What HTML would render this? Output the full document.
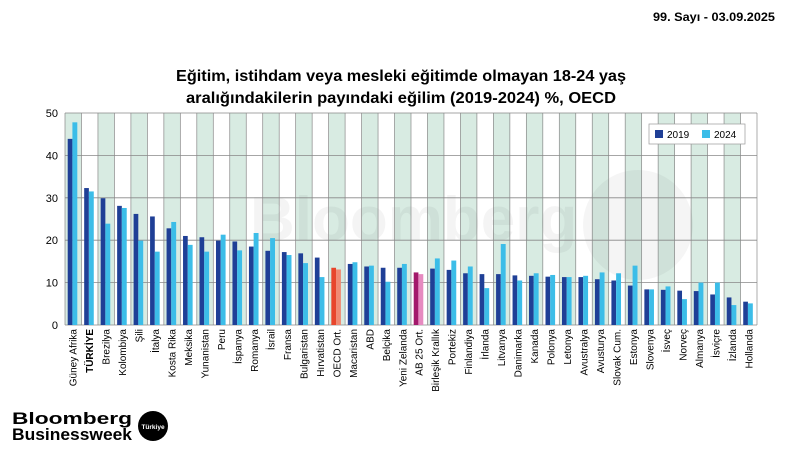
<!DOCTYPE html>
<html><head><meta charset="utf-8"><style>
html,body{margin:0;padding:0;background:#fff;width:800px;height:450px;overflow:hidden}
svg text{font-family:"Liberation Sans",sans-serif}
</style></head><body>
<svg width="800" height="450" viewBox="0 0 800 450" xmlns="http://www.w3.org/2000/svg">
<text x="775" y="21" text-anchor="end" font-size="12" font-weight="bold" textLength="122" lengthAdjust="spacingAndGlyphs">99. Sayı - 03.09.2025</text>
<text x="401" y="81" text-anchor="middle" font-size="15.5" font-weight="bold" textLength="450" lengthAdjust="spacingAndGlyphs">Eğitim, istihdam veya mesleki eğitimde olmayan 18-24 yaş</text>
<text x="401" y="103" text-anchor="middle" font-size="15.5" font-weight="bold" textLength="430" lengthAdjust="spacingAndGlyphs">aralığındakilerin payındaki eğilim (2019-2024) %, OECD</text>
<g id="chart"></g>
<text x="12" y="424" font-size="17" font-weight="bold" textLength="120" lengthAdjust="spacingAndGlyphs">Bloomberg</text>
<text x="12" y="440" font-size="17" font-weight="bold" textLength="120" lengthAdjust="spacingAndGlyphs">Businessweek</text>
<circle cx="153" cy="426" r="15" fill="#000"/>
<text x="153" y="429" text-anchor="middle" font-size="6.5" font-weight="bold" fill="#fff">Türkiye</text>
</svg>
<script>
(function(){
const names=["Güney Afrika","TÜRKİYE","Brezilya","Kolombiya","Şili","İtalya","Kosta Rika","Meksika","Yunanistan","Peru","İspanya","Romanya","İsrail","Fransa","Bulgaristan","Hırvatistan","OECD Ort.","Macaristan","ABD","Belçika","Yeni Zelanda","AB 25 Ort.","Birleşik Krallık","Portekiz","Finlandiya","İrlanda","Litvanya","Danimarka","Kanada","Polonya","Letonya","Avustralya","Avusturya","Slovak Cum.","Estonya","Slovenya","İsveç","Norveç","Almanya","İsviçre","İzlanda","Hollanda"];
const a=[43.9,32.3,29.9,28.1,26.2,25.6,22.8,21.0,20.7,19.9,19.7,18.5,17.5,17.2,16.9,15.9,13.5,14.4,13.8,13.5,13.5,12.4,13.3,13.0,12.2,12.0,12.0,11.7,11.6,11.4,11.3,11.3,10.8,10.5,9.3,8.4,8.3,8.1,8.0,7.2,6.5,5.5];
const b=[47.8,31.5,23.9,27.6,19.9,17.3,24.3,18.9,17.3,21.3,17.6,21.7,20.5,16.5,14.6,11.3,13.1,14.8,14.0,10.2,14.4,12.0,15.7,15.2,13.8,8.7,19.1,10.5,12.2,11.8,11.3,11.6,12.4,12.2,14.0,8.4,9.1,6.1,10.0,10.0,4.7,5.1];
const x0=65,x1=757,y0=325,yt=113,n=42,w=(x1-x0)/n,k=(y0-yt)/50;
let s='';
for(let i=0;i<n;i++){if(i%2==0)s+=`<rect x="${x0+i*w}" y="${yt}" width="${w}" height="${y0-yt}" fill="#d8ebe2"/>`;}
s+=`<text x="250" y="240" font-size="62" font-weight="bold" fill="#000" opacity="0.04">Bloomberg</text><circle cx="638" cy="225" r="55" fill="#000" opacity="0.04"/>`;
for(let i=0;i<=n;i++){const x=x0+i*w;s+=`<line x1="${x}" y1="${yt}" x2="${x}" y2="${y0}" stroke="#888" stroke-width="0.7"/>`;}
for(let v=0;v<=50;v+=10){const y=y0-v*k;s+=`<line x1="${x0}" y1="${y}" x2="${x1}" y2="${y}" stroke="#888" stroke-width="0.8"/><text x="58" y="${y+4}" text-anchor="end" font-size="11">${v}</text>`;}
for(let i=0;i<n;i++){const x=x0+i*w;let ca='#1f3f96',cb='#3cbde8';if(i==16){ca='#e8452c';cb='#f08a74';}if(i==21){ca='#a3196b';cb='#e68ac0';}
s+=`<rect x="${x+2.7}" y="${y0-a[i]*k}" width="4.7" height="${a[i]*k}" fill="${ca}"/><rect x="${x+7.4}" y="${y0-b[i]*k}" width="4.9" height="${b[i]*k}" fill="${cb}"/>`;
const cx=x+w/2+3.5;s+=`<text transform="translate(${cx},329) rotate(-90)" text-anchor="end" font-size="10" ${i==1?'font-weight="bold"':''}>${names[i]}</text>`;}
s+=`<rect x="649" y="124" width="96" height="20" fill="#fff" stroke="#999" stroke-width="0.7"/><rect x="655" y="130" width="8" height="8" fill="#1f3f96"/><text x="667" y="138" font-size="10">2019</text><rect x="702" y="130" width="8" height="8" fill="#3cbde8"/><text x="714" y="138" font-size="10">2024</text>`;
document.getElementById('chart').innerHTML=s;
})();
</script>
</body></html>
